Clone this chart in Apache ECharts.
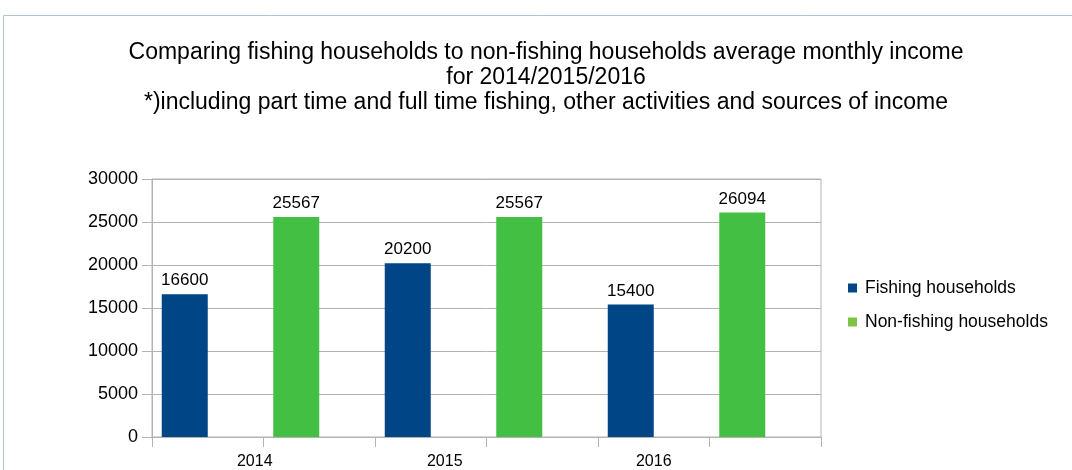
<!DOCTYPE html>
<html>
<head>
<meta charset="utf-8">
<script src="https://cdn.jsdelivr.net/npm/echarts@6/dist/echarts.min.js"></script>
<style>
  html, body { margin: 0; padding: 0; background: #fff; }
  #chart { width: 1072px; height: 470px; }
</style>
</head>
<body>
<div id="chart"></div>
<script>
// Category slots: each year gets one slot per household group
const categories = ['2014', '', '2015', '', '2016', ''];
const fishing = [16600, null, 20200, null, 15400, null];
const nonFishing = [null, 25567, null, 25567, null, 26094];
const yTicks = { min: 0, max: 30000, interval: 5000 };

const FONT = "'Liberation Sans', Arial, sans-serif";
const BLUE = '#004586';
const GREEN = '#43bf43';
const GREEN_KEY = '#7ec342';

// horizontal nudges for the year labels (left padding of each label box)
const labelPad = [94, 0, 28, 0, 0, 0];
const rich = {};
labelPad.forEach((p, i) => {
  rich['c' + i] = { fontFamily: FONT, fontSize: 16, color: '#000', padding: [0, 0, 0, p] };
});

const chart = echarts.init(document.getElementById('chart'), null, { renderer: 'canvas' });

const valueLabel = {
  show: true,
  position: 'top',
  distance: 5,
  fontFamily: FONT,
  fontSize: 17,
  color: '#000'
};

chart.setOption({
  backgroundColor: '#fff',
  animation: false,
  title: {
    text: 'Comparing fishing households to non-fishing households average monthly income\nfor 2014/2015/2016\n*)including part time and full time fishing, other activities and sources of income',
    left: 541,
    textAlign: 'center',
    top: 35,
    textStyle: {
      fontFamily: FONT,
      fontSize: 23,
      fontWeight: 'normal',
      color: '#000',
      lineHeight: 25
    }
  },
  graphic: [
    {
      type: 'polyline',
      silent: true,
      shape: { points: [[3.5, 470], [3.5, 15.5], [1072, 15.5]] },
      style: { stroke: '#b3c2d9', lineWidth: 1, fill: null }
    }
  ],
  legend: {
    data: [
      { name: 'Fishing households' },
      { name: 'Non-fishing households', itemStyle: { color: GREEN_KEY } }
    ],
    orient: 'vertical',
    left: 843,
    top: 274,
    itemWidth: 9,
    itemHeight: 9,
    itemGap: 16,
    icon: 'rect',
    textStyle: { fontFamily: FONT, fontSize: 17.5, color: '#000', padding: [0, 0, 0, 3] }
  },
  grid: {
    left: 152,
    right: 251,
    top: 179,
    bottom: 33,
    show: true,
    borderColor: '#b3b3b3',
    borderWidth: 1
  },
  xAxis: {
    type: 'category',
    data: categories,
    axisLine: { lineStyle: { color: '#b3b3b3' } },
    axisTick: { show: true, alignWithLabel: false, length: 10, lineStyle: { color: '#b3b3b3' } },
    axisLabel: {
      interval: 0,
      margin: 17,
      formatter: (v, i) => '{c' + i + '|' + v + '}',
      rich: rich
    },
    splitLine: { show: false }
  },
  yAxis: {
    type: 'value',
    min: yTicks.min,
    max: yTicks.max,
    interval: yTicks.interval,
    axisLine: { show: true, lineStyle: { color: '#b3b3b3' } },
    axisTick: { show: true, length: 10, lineStyle: { color: '#b3b3b3' } },
    axisLabel: { margin: 14, fontFamily: FONT, fontSize: 18, color: '#000', formatter: v => String(v) },
    splitLine: { show: true, lineStyle: { color: '#b3b3b3' } }
  },
  series: [
    {
      name: 'Fishing households',
      type: 'bar',
      stack: 'households',
      data: fishing,
      barWidth: 46,
      itemStyle: { color: BLUE },
      label: valueLabel
    },
    {
      name: 'Non-fishing households',
      type: 'bar',
      stack: 'households',
      data: nonFishing,
      barWidth: 46,
      itemStyle: { color: GREEN },
      label: valueLabel
    },
    {
      // empty companion stack: keeps each bar in the left half of its slot
      name: 'spacer',
      type: 'bar',
      stack: 'spacer',
      data: [],
      barWidth: 46,
      barGap: 0,
      silent: true
    }
  ]
});
</script>
</body>
</html>
